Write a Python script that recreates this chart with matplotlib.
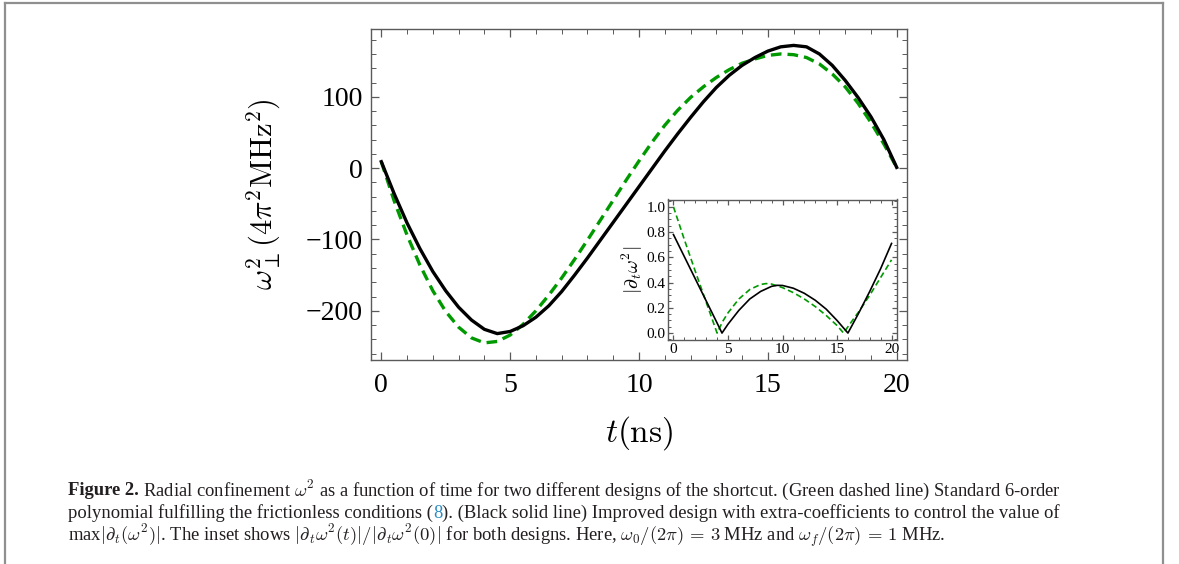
import matplotlib
matplotlib.use('Agg')
import matplotlib.pyplot as plt
from matplotlib.ticker import MultipleLocator, FormatStrFormatter
from matplotlib.lines import Line2D

plt.rcParams['mathtext.fontset'] = 'cm'
plt.rcParams['font.family'] = ['Liberation Serif', 'DejaVu Serif']
plt.rcParams['axes.unicode_minus'] = True

# --- datos ----------------------------------------------------------------
t_main = [0, 0.5, 1, 1.5, 2, 2.5, 3, 3.5, 4, 4.5, 5, 5.5, 6, 6.5, 7, 7.5, 8,
          8.5, 9, 9.5, 10, 10.5, 11, 11.5, 12, 12.5, 13, 13.5, 14, 14.5, 15,
          15.5, 16, 16.5, 17, 17.5, 18, 18.5, 19, 19.5, 20]
# diseno estandar (verde, a trazos)
w2_std = [9, -46, -94, -136, -172, -201, -223, -238, -245, -243, -234, -219,
          -200, -178, -154, -128, -101, -73, -45, -17, 10, 36, 60, 81, 99,
          114, 127, 138, 147, 153, 158, 160, 159, 155, 146, 132, 114, 91, 64,
          34, 1]
# diseno mejorado (negro, continuo)
w2_imp = [9, -36, -77, -113, -145, -172, -195, -213, -226, -232, -229, -221,
          -209, -193, -173, -150, -126, -101, -76, -51, -26, -1, 24, 48, 71,
          93, 113, 130, 144, 155, 164, 170, 172, 170, 160, 144, 123, 99, 72,
          40, 1]

# inset: |d/dt w^2| normalizado
t_ins_std = [0, 1, 2, 3, 4.0, 4.5, 5, 6, 7, 8, 8.5, 9, 10, 11, 12, 13, 14, 15,
             15.6, 16, 17, 18, 19, 20]
d_std = [1.0, 0.74, 0.49, 0.245, 0.0, 0.09, 0.16, 0.27, 0.345, 0.385, 0.392,
         0.388, 0.36, 0.32, 0.27, 0.21, 0.14, 0.06, 0.0, 0.05, 0.17, 0.3,
         0.44, 0.58]
t_ins_imp = [0, 1, 2, 3, 4, 4.45, 5, 6, 7, 8, 9, 9.5, 10, 11, 12, 13, 14, 15,
             16.0, 17, 18, 19, 20]
d_imp = [0.78, 0.605, 0.43, 0.255, 0.08, 0.0, 0.07, 0.18, 0.27, 0.33, 0.37,
         0.378, 0.377, 0.355, 0.315, 0.26, 0.19, 0.1, 0.0, 0.16, 0.33, 0.51,
         0.71]

xticks_main = [0, 5, 10, 15, 20]
yticks_main = [-200, -100, 0, 100]
xticks_ins = [0, 5, 10, 15, 20]
yticks_ins = [0.0, 0.2, 0.4, 0.6, 0.8, 1.0]

GREEN = '#009a00'
FRAME = '#5a5a5a'
W, H = 1179, 564


def frame_ticks(a, major, minor):
  a.tick_params(which='both', direction='in', top=True, right=True,
                color=FRAME)
  a.tick_params(which='major', length=major, width=0.9)
  a.tick_params(which='minor', length=minor, width=0.7)
  for s in a.spines.values():
    s.set_color(FRAME)
    s.set_linewidth(1.0)


fig = plt.figure(figsize=(W/100, H/100), dpi=100)

# --- grafica principal -------------------------------------------------------
ax = fig.add_axes([371/W, 1-360/H, 536/W, 331/H])
ax.plot(t_main, w2_std, color=GREEN, lw=2.4, dashes=(3.2, 1.8))
ax.plot(t_main, w2_imp, color='black', lw=2.4)
ax.set_xlim(-0.4, 20.4)
ax.set_ylim(-269, 195)
ax.set_xticks(xticks_main)
ax.set_yticks(yticks_main)
ax.xaxis.set_minor_locator(MultipleLocator(1))
ax.yaxis.set_minor_locator(MultipleLocator(20))
frame_ticks(ax, 6, 3.5)
ax.tick_params(labelsize=20, pad=6)
ax.tick_params(axis='x', pad=9)
ax.set_xlabel(r'$t(\mathrm{ns})$', fontsize=24, labelpad=12)
ax.set_ylabel(r'$\omega_{\perp}^{2}(4\pi^{2}\mathrm{MHz}^{2})$', fontsize=22,
              labelpad=16)

# --- inset -------------------------------------------------------------------
axi = fig.add_axes([668/W, 1-340/H, 229/W, 140.5/H], zorder=3)
axi.plot(t_ins_std, d_std, color=GREEN, lw=1.2, dashes=(3.5, 2))
axi.plot(t_ins_imp, d_imp, color='black', lw=1.2)
axi.set_xlim(-0.5, 20.5)
axi.set_ylim(-0.055, 1.058)
axi.set_xticks(xticks_ins)
axi.set_yticks(yticks_ins)
axi.yaxis.set_major_formatter(FormatStrFormatter('%.1f'))
axi.xaxis.set_minor_locator(MultipleLocator(1))
axi.yaxis.set_minor_locator(MultipleLocator(0.05))
frame_ticks(axi, 3.5, 2)
axi.tick_params(labelsize=11, pad=2)
axi.set_ylabel(r'$|\partial_t\omega^2|$', fontsize=14, labelpad=1)

# --- marco exterior ----------------------------------------------------------
for xs, ys in [([5/W, 5/W], [0, 1-3/H]), ([5/W, 1163/W], [1-3/H, 1-3/H]),
               ([1163/W, 1163/W], [0, 1-3/H])]:
  fig.add_artist(Line2D(xs, ys, transform=fig.transFigure,
                        color='#8f8f8f', lw=1.6))

# --- pie de figura -----------------------------------------------------------
CAP = 13.4
TXT = '#231f20'
fig.canvas.draw()
rend = fig.canvas.get_renderer()


def cap_line(y_px, pieces, x_px=68):
  x = x_px
  for s, kw in pieces:
    t = fig.text(x/W, 1-y_px/H, s, fontsize=CAP, va='baseline',
                 color=kw.get('color', TXT), fontweight=kw.get('weight', 'normal'))
    x += t.get_window_extent(rend).width + kw.get('gap', 0)


cap_line(495, [('Figure 2.', {'weight': 'bold', 'gap': 4}),
               ('Radial confinement $\\omega^2$ as a function of time for two '
                'different designs of the shortcut. (Green dashed line) '
                'Standard 6-order', {})])
cap_line(518, [('polynomial fulfilling the frictionless conditions (', {}),
               ('8', {'color': '#2b8cc4'}),
               ('). (Black solid line) Improved design with extra-coefficients '
                'to control the value of', {})])
cap_line(541, [('max$|\\partial_t(\\omega^2)|$. The inset shows '
                '$|\\partial_t\\omega^2(t)|/|\\partial_t\\omega^2(0)|$ for both '
                'designs. Here, $\\omega_0/(2\\pi)\\,=\\,3$ MHz and '
                '$\\omega_f/(2\\pi)\\,=\\,1$ MHz.', {})])

fig.savefig('out.png', dpi=100)
